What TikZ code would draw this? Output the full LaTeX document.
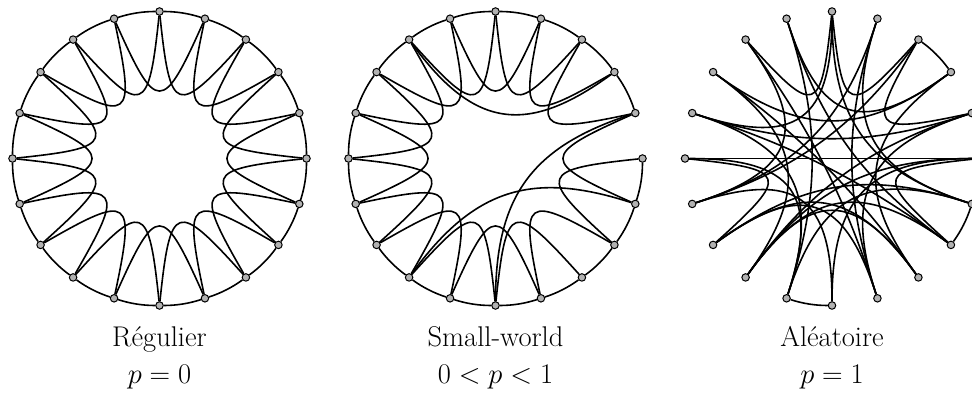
\RequirePackage{fix-cm}
\documentclass[tikz,border=0pt]{standalone}
\pgfdeclarelayer{bg}
\pgfsetlayers{bg,main}
\tikzset{
  vtx/.style={circle,draw=black,fill=gray!60,line width=1pt,inner sep=0pt,minimum size=7.5pt},
  lnk/.style={line width=1.6pt},
  lbl/.style={font=\fontsize{28.5}{34}\selectfont,anchor=base,inner sep=0pt}
}
% edge between node #2 and node #3 of graph #1, bending toward the centre
\newcommand\wsedge[3]{%
  \pgfmathtruncatemacro\wsDk{mod(#3-#2+20,20)}%
  \pgfmathtruncatemacro\wsSt{min(\wsDk,20-\wsDk)}%
  \pgfmathsetmacro\wsSg{(\wsDk<=10)?1:-1}%
  \pgfmathsetmacro\wsBt{(\wsSt==2)?6:0}%
  \pgfmathsetmacro\wsDs{(\wsSt==2)?100:105}%
  \pgfmathsetmacro\wsOa{90-18*#2+180+\wsSg*\wsBt}%
  \pgfmathsetmacro\wsIa{90-18*#3+180-\wsSg*\wsBt}%
  \draw[lnk] (#1#2) to[out=\wsOa,in=\wsIa,distance=\wsDs pt] (#1#3);%
}
% arc between neighbouring nodes (clockwise from #2 to #3)
\newcommand\wsarc[3]{%
  \draw[lnk] (#1#2) to[bend left=9,looseness=0.86] (#1#3);%
}
\begin{document}
\begin{tikzpicture}[x=1pt,y=1pt]
\useasboundingbox (0,0) rectangle (972,392);
% vertices
\foreach \g/\cx in {L/159.5,M/495.5,R/832}{
  \foreach \k in {0,...,19}{
    \node[vtx] (\g\k) at ({\cx+147*cos(90-18*\k)},{233.5+147*sin(90-18*\k)}) {};
  }
}
\begin{pgfonlayer}{bg}
% regular ring
\foreach \k in {0,...,19}{
  \pgfmathtruncatemacro\ka{mod(\k+1,20)}
  \pgfmathtruncatemacro\kb{mod(\k+2,20)}
  \wsarc{L}{\k}{\ka}
  \wsedge{L}{\k}{\kb}
}
% small-world
\foreach \k in {0,...,19}{
  \pgfmathtruncatemacro\ka{mod(\k+1,20)}
  \pgfmathtruncatemacro\kb{mod(\k+2,20)}
  \ifnum\k=4 \else \wsarc{M}{\k}{\ka}\fi
  \ifnum\k=3 \else\ifnum\k=6 \else \wsedge{M}{\k}{\kb}\fi\fi
}
\wsedge{M}{18}{3}
\wsedge{M}{4}{10}
\wsedge{M}{12}{6}
% random
\foreach \a/\b in {2/3,6/7,10/11}{\wsarc{R}{\a}{\b}}
\foreach \a/\b in {18/0,0/2,2/4,5/7,13/15,
  1/9,1/14,2/14,18/9,17/3,17/8,16/4,16/7,15/5,15/11,12/5,12/4,19/11,13/8,13/6,
  0/16,10/14,9/4,8/3,11/6,3/19,6/1,10/5,12/17,7/12,9/13,0/6,8/12,11/16,19/7,18/14}{
  \wsedge{R}{\a}{\b}
}
\end{pgfonlayer}
% labels
\node[lbl] (t1) at (159.5,46) {Régulier};
\node[lbl] (p1) at (159.5,9) {$p=0$};
\node[lbl] (t2) at (495.5,46) {Small-world};
\node[lbl] (p2) at (495.5,9) {$0<p<1$};
\node[lbl] (t3) at (832,46) {Aléatoire};
\node[lbl] (p3) at (832,9) {$p=1$};
\end{tikzpicture}
\end{document}
